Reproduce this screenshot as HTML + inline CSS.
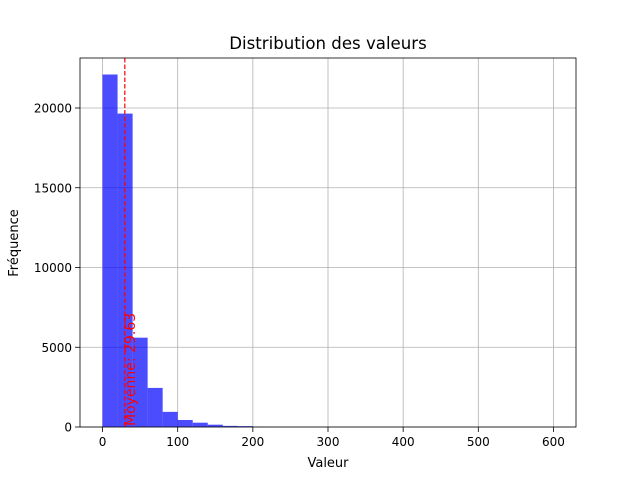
<!DOCTYPE html>
<html><head><meta charset="utf-8"><style>body{margin:0;background:#fff}svg{display:block;font-family:"DejaVu Sans","Liberation Sans",sans-serif}</style></head>
<body>
<svg id="chart" width="640" height="480" xmlns="http://www.w3.org/2000/svg">
<rect width="640" height="480" fill="#fff"/>
<g id="grid"></g><g id="bars"></g><g id="axes"></g>
<text x="328" y="49" text-anchor="middle" font-size="16.6">Distribution des valeurs</text>
<text x="328" y="467" text-anchor="middle" font-size="13">Valeur</text>
<text transform="translate(18,243) rotate(-90)" text-anchor="middle" font-size="13">Fréquence</text>
</svg>
<script>
const binStarts=[0,20,40,60,80,100,120,140,160,180,200];
const counts=[22100,19650,5600,2450,950,440,270,145,70,55,10];
const binWidth=20;
const meanValue=29.63;
const xTicks=[0,100,200,300,400,500,600];
const yTicks=[0,5000,10000,15000,20000];
const ns="http://www.w3.org/2000/svg";
const L=80,R=576,T=58,B=427;
const xmin=-30,xmax=630,ymax=23135;
const X=v=>L+(v-xmin)/(xmax-xmin)*(R-L);
const Y=v=>B-v/ymax*(B-T);
function mk(tag,attrs,parent){const e=document.createElementNS(ns,tag);for(const k in attrs)e.setAttribute(k,attrs[k]);document.getElementById(parent).appendChild(e);return e;}
xTicks.forEach(t=>{
 const g=mk('line',{x1:X(t),x2:X(t),y1:T,y2:B,stroke:'#b0b0b0','stroke-width':0.8},'grid');
 
 
 const tk=mk('line',{x1:X(t),x2:X(t),y1:B,y2:B+5,stroke:'#000','stroke-width':0.8},'axes');
 
 
 const tx=mk('text',{x:X(t),y:B+19,'text-anchor':'middle','font-size':'12'},'axes');
 tx.textContent=t;
 
 
});
yTicks.forEach(t=>{
 const g=mk('line',{x1:L,x2:R,y1:Y(t),y2:Y(t),stroke:'#b0b0b0','stroke-width':0.8},'grid');
 
 
 const tk=mk('line',{x1:L-5,x2:L,y1:Y(t),y2:Y(t),stroke:'#000','stroke-width':0.8},'axes');
 
 
 const tx=mk('text',{x:L-8,y:Y(t)+4.5,'text-anchor':'end','font-size':'12'},'axes');
 tx.textContent=t;
 
 
});
binStarts.forEach((s,i)=>{
 const r=mk('rect',{x:X(s),y:Y(counts[i]),width:X(s+binWidth)-X(s),height:B-Y(counts[i]),fill:'#0000ff','fill-opacity':0.7},'bars');
 
 
});
const ml=mk('line',{x1:X(meanValue),x2:X(meanValue),y1:T,y2:B,stroke:'#ff0000','stroke-width':1.2,'stroke-dasharray':'4.5,2'},'bars');


const mt=mk('text',{transform:`translate(${X(meanValue)+10},${B-1}) rotate(-90)`,fill:'#ff0000','font-size':'14'},'bars');
mt.textContent='Moyenne: '+meanValue.toFixed(2);


const fr=mk('rect',{x:L,y:T,width:R-L,height:B-T,fill:'none',stroke:'#000','stroke-width':0.8},'axes');


</script>
</body></html>
